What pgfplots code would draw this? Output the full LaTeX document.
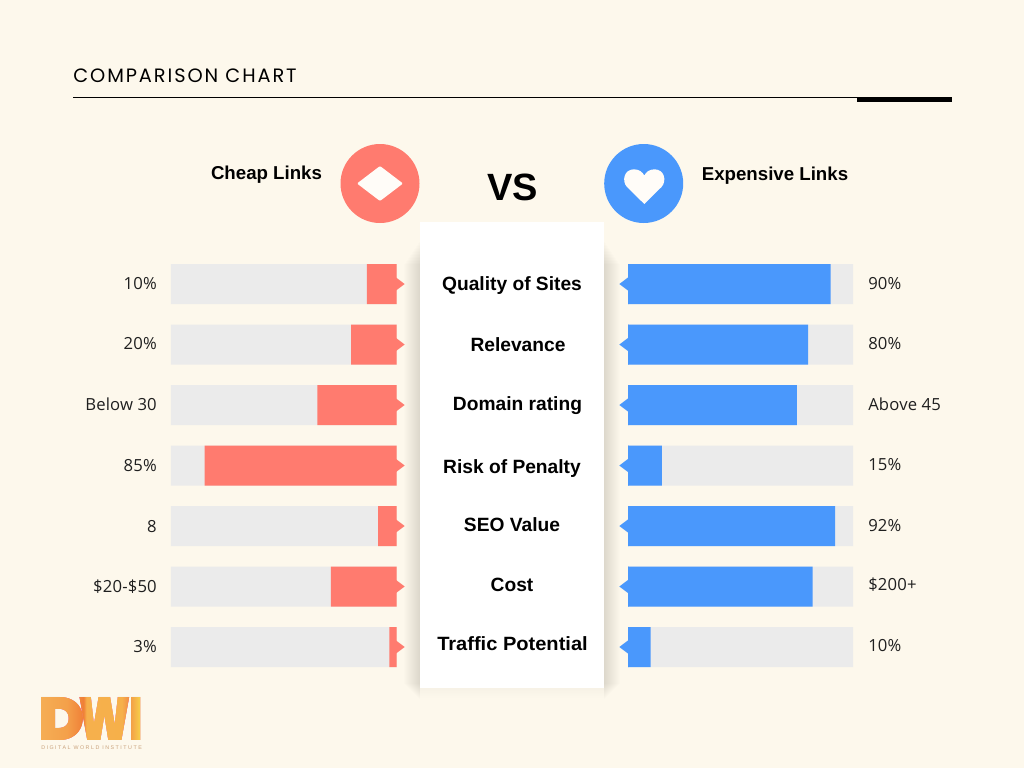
\documentclass[border=0pt]{standalone}
\usepackage{pgfplots}
\pgfplotsset{compat=1.18}
\usepackage{pgfplotstable}
\usepackage{graphicx}
\usepackage{fontspec}
\setmainfont[LetterSpace=1]{Open Sans}
\newfontfamily\boldfx{Liberation Sans}
\newcommand{\boldf}{\boldfx\bfseries}
\newfontfamily\titlef[LetterSpace=10]{Poppins}
\newfontfamily\logof{Poppins Black}
\newfontfamily\logosub[LetterSpace=28]{Liberation Sans}
\definecolor{bg}{HTML}{FDF8EC}
\definecolor{redc}{HTML}{FF7B6F}
\definecolor{bluec}{HTML}{4A98FC}
\definecolor{track}{HTML}{EBEBEB}
\definecolor{iconw}{HTML}{FFFCF8}
\definecolor{sub}{HTML}{C9A27C}
\pgfdeclarehorizontalshading{dwi}{100bp}{
 rgb(0bp)=(.96,.68,.33);
 rgb(25bp)=(.96,.68,.33);
 rgb(38bp)=(.957,.627,.29);
 rgb(46bp)=(.94,.50,.216);
 rgb(47.5bp)=(.965,.69,.30);
 rgb(65bp)=(.965,.69,.29);
 rgb(68bp)=(.95,.57,.28);
 rgb(75bp)=(.97,.85,.29);
 rgb(100bp)=(.97,.85,.29)}
\pgfdeclareplotmark{rtri}{\pgfpathmoveto{\pgfpoint{0pt}{4.9pt}}\pgfpathlineto{\pgfpoint{6.5pt}{0pt}}\pgfpathlineto{\pgfpoint{0pt}{-4.9pt}}\pgfpathclose\pgfusepathqfill}
\pgfdeclareplotmark{ltri}{\pgfpathmoveto{\pgfpoint{0pt}{4.9pt}}\pgfpathlineto{\pgfpoint{-6.5pt}{0pt}}\pgfpathlineto{\pgfpoint{0pt}{-4.9pt}}\pgfpathclose\pgfusepathqfill}
\pgfplotstableread{
row track value
0 100 13
1 100 20
2 100 35
3 100 85
4 100 8
5 100 29
6 100 3
}\cheap
\pgfplotstableread{
row track value
0 100 90
1 100 80
2 100 75
3 100 15
4 100 92
5 100 82
6 100 10
}\expensive
\pgfplotsset{barax/.style={
 hide axis, scale only axis, clip=false,
 width=168.75pt, height=317.625pt,
 xmin=0, xmax=100, ymin=-0.5, ymax=6.5, y dir=reverse,
 xbar, bar shift=0pt, bar width=30pt}}
\newcommand{\valfont}{\fontsize{12.5pt}{14pt}\selectfont}
\newcommand{\catfont}{\boldf\fontsize{14.4pt}{16pt}\selectfont}
\newcommand{\headfont}{\boldf\fontsize{14pt}{16pt}\selectfont}
\begin{document}
\begin{tikzpicture}[x=0.75pt,y=-0.75pt]
\fill[bg] (0,0) rectangle (1024,768);
% header
\node[anchor=base west,inner sep=0pt,text=black] at (73,82.5) {\titlef\fontsize{14.5pt}{16pt}\selectfont COMPARISON CHART};
\fill[black] (73,96.8) rectangle (952,97.9);
\fill[black] (857,97) rectangle (952,102);
% panel shadow
\foreach \i in {1,...,16}{
 \fill[black,opacity=0.007] ({420-\i},{240+1.5*\i}) rectangle (420,{700-1*\i});
 \fill[black,opacity=0.007] ({604+\i},{240+1.5*\i}) rectangle (604,{700-1*\i});
}
\shade[top color=black!2.5!bg,bottom color=bg] (420,688) rectangle (604,698);
\fill[white] (420,222) rectangle (604,688);
% icons
\fill[redc] (380,183.5) circle (39.5);
\fill[bluec] (643.7,183.5) circle (39.5);
\fill[iconw,rounded corners=0.8pt] (357,183.5) -- (380,166) -- (403,183.5) -- (380,201) -- cycle;
\fill[iconw] (644.3,204) -- (627,187) .. controls (621.5,181) and (624,169.3) .. (634,169.3)
 .. controls (639,169.3) and (642.5,172) .. (644.3,175.5)
 .. controls (646,172) and (649.5,169.3) .. (654.5,169.3)
 .. controls (664.5,169.3) and (667,181) .. (661.5,187) -- cycle;
% headers
\node[anchor=base,inner sep=0pt] at (266.5,179) {\headfont Cheap Links};
\node[anchor=base,inner sep=0pt] at (775,180) {\headfont Expensive Links};
\node[anchor=base,inner sep=0pt] at (512.5,200) {\boldf\fontsize{28.5pt}{30pt}\selectfont VS};
% bars
\begin{axis}[barax, at={(128.25pt,-190.3125pt)}, anchor=north west, x dir=reverse]
\addplot[fill=track,draw=none] table[x=track,y=row] {\cheap};
\addplot[fill=redc,draw=none] table[x=value,y=row] {\cheap};
\addplot[only marks,xbar=false,mark=rtri,color=redc] table[x expr=0,y=row] {\cheap};
\end{axis}
\begin{axis}[barax, at={(471pt,-190.3125pt)}, anchor=north west]
\addplot[fill=track,draw=none] table[x=track,y=row] {\expensive};
\addplot[fill=bluec,draw=none] table[x=value,y=row] {\expensive};
\addplot[only marks,xbar=false,mark=ltri,color=bluec] table[x expr=0,y=row] {\expensive};
\end{axis}
% left values
\foreach \y/\t in {283.5/10\%,343.5/20\%,404.5/Below 30,465/85\%,526/8,586/\$20-\$50,646.5/3\%}
 \node[anchor=base east,inner sep=0pt,text=black!88] at (157,\y+6) {\valfont \t};
% right values
\foreach \y/\t in {283.5/90\%,343/80\%,404/Above 45,464.5/15\%,525/92\%,584.5/\$200+,645/10\%}
 \node[anchor=base west,inner sep=0pt,text=black!88] at (868,\y+6) {\valfont \t};
% categories
\foreach \x/\y/\t in {512/284/Quality of Sites,518/344.5/Relevance,517.5/404/Domain rating,512/466.5/Risk of Penalty,512/525/SEO Value,512/585/Cost,512.5/644/\scalebox{1.045}[1]{Traffic Potential}}
 \node[anchor=base,inner sep=0pt,text=black] at (\x,\y+6.5) {\catfont \t};
% logo
\node[anchor=south west,inner sep=0pt] at (38.5,741) {\resizebox{35pt}{32.25pt}{\logof D}};
\node[anchor=south west,inner sep=0pt] at (78,741) {\resizebox{39.5pt}{32.25pt}{\logof W}};
\node[anchor=south west,inner sep=0pt] at (129.5,741) {\resizebox{10pt}{32.25pt}{\logof I}};
\begin{scope}[blend mode=lighten]
\shade[shading=dwi] (41,697) rectangle (142,742);
\end{scope}
\node[anchor=base west,inner sep=0pt,text=sub] at (41,749) {\logosub\fontsize{4pt}{4.5pt}\selectfont DIGITAL WORLD INSTITUTE};
\path[use as bounding box] (0,0) rectangle (1024,768);
\end{tikzpicture}
\end{document}
